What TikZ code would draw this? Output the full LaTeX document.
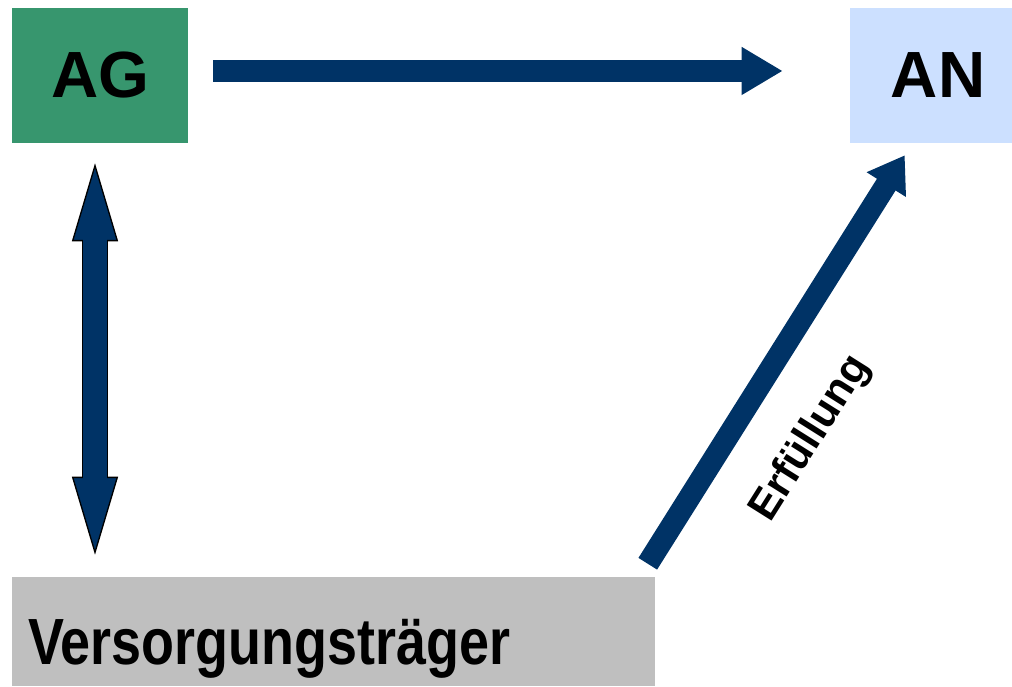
\documentclass[tikz,border=0pt]{standalone}
\usepackage{fontspec}
\setmainfont{Liberation Sans}
\newfontfamily\narrowsans[FakeStretch=0.825]{Liberation Sans}
\usepackage{xcolor}
\usepackage{tikz}
\usetikzlibrary{positioning,arrows.meta,calc}
\definecolor{agreen}{RGB}{55,150,110}
\definecolor{anblue}{RGB}{204,224,255}
\definecolor{vtgray}{RGB}{191,191,191}
\definecolor{flowblue}{RGB}{0,51,102}

\begin{document}
\begin{tikzpicture}[
    x=0.75pt, y=-0.75pt,
    box/.style={
        rectangle, inner sep=0pt,
        minimum width=132pt, minimum height=101.25pt,
        font=\bfseries\fontsize{49}{58}\selectfont
    },
    flowarrow/.style={
        line width=17pt, draw=flowblue,
        -{Triangle[width=33.75pt, length=30.75pt]}
    },
    slantarrow/.style={
        line width=16.5pt, draw=flowblue,
        -{Triangle[width=33pt, length=26pt]}
    },
    bluetip/.tip={Triangle[width=34.5pt, length=58.5pt, line width=1pt, color=black, fill=flowblue]}
]
    \useasboundingbox (0,0) rectangle (1012,686);

    \node[box, fill=agreen] (ag) at (100,75.5) {AG};
    \node[box, fill=anblue] (an) at (938,75.5) {AN};
    \node[rectangle, fill=vtgray, inner xsep=12pt, inner ysep=0pt,
          text width=458.25pt, align=left, text height=65.25pt, text depth=16.5pt,
          font=\narrowsans\bfseries\fontsize{49}{58}\selectfont]
          (vt) at (333.5,631.5) {Versorgungsträger};

    \draw[flowarrow, shorten <=18.75pt, shorten >=50.25pt]
        ([yshift=3.4pt]ag.east) -- ([yshift=3.4pt]an.west);

    % outlined double arrow
    \coordinate (vtop) at ([xshift=-3.75pt, yshift=-15pt]ag.south);
    \coordinate (vbot) at ([yshift=16.5pt]vtop |- vt.north);
    \draw[line width=20pt, black, shorten <=50pt, shorten >=50pt] (vtop) -- (vbot);
    \draw[line width=18pt, flowblue, bluetip-bluetip] (vtop) -- (vbot);
    \draw[line width=18pt, flowblue, shorten <=56pt, shorten >=56pt] (vtop) -- (vbot);

    \draw[slantarrow] ($(vt.north east)+(-7.5,-13)$) -- ($(an.south west)+(55,12)$)
        node[pos=0.4, sloped, below=27pt, font=\bfseries\fontsize{32}{38}\selectfont] {Erfüllung};
\end{tikzpicture}
\end{document}
